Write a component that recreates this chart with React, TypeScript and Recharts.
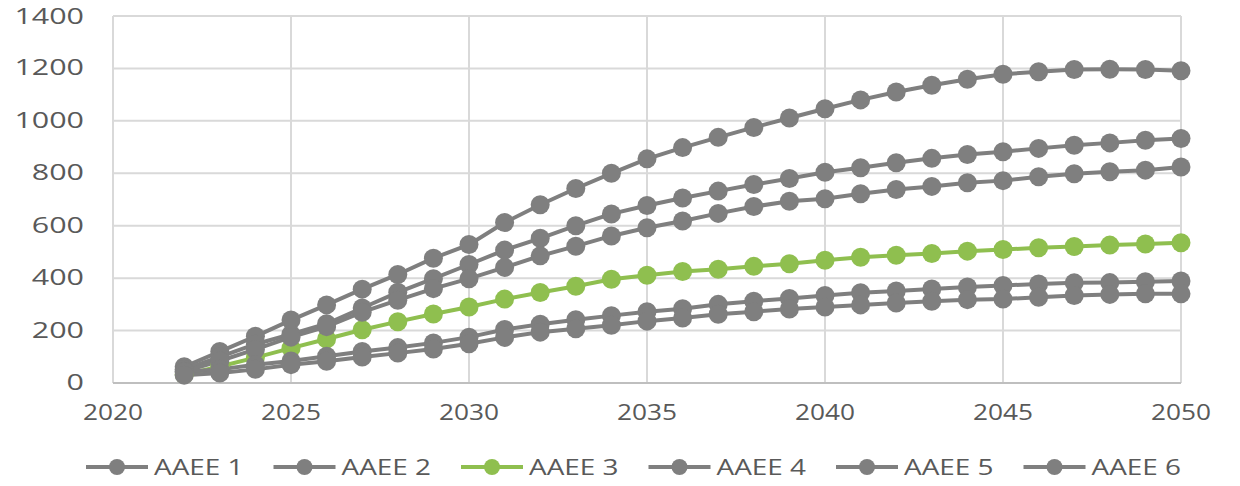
import { LineChart, Line, XAxis, YAxis, CartesianGrid, Legend } from "recharts";

const years = [
  2022, 2023, 2024, 2025, 2026, 2027, 2028, 2029, 2030, 2031, 2032, 2033, 2034, 2035, 2036,
  2037, 2038, 2039, 2040, 2041, 2042, 2043, 2044, 2045, 2046, 2047, 2048, 2049, 2050,
];

const aaee1 = [
  62, 120, 178, 240, 298, 358, 414, 476, 528, 612, 680, 742, 800, 855, 898,
  937, 975, 1011, 1046, 1080, 1110, 1136, 1159, 1178, 1187, 1196, 1197, 1196, 1191,
];
const aaee2 = [
  52, 100, 148, 186, 226, 286, 346, 398, 452, 507, 552, 600, 645, 677, 706,
  732, 757, 780, 804, 821, 840, 857, 872, 882, 895, 907, 916, 926, 933,
];
const aaee3 = [
  32, 63, 97, 133, 168, 203, 234, 263, 290, 320, 345, 369, 396, 411, 425,
  434, 445, 455, 468, 480, 487, 494, 503, 509, 516, 521, 526, 530, 535,
];
const aaee4 = [
  45, 84, 128, 175, 215, 270, 316, 360, 398, 441, 485, 522, 561, 592, 618,
  647, 673, 693, 703, 722, 738, 750, 764, 772, 787, 798, 806, 812, 824,
];
const aaee5 = [
  42, 52, 70, 84, 102, 120, 135, 153, 175, 204, 224, 241, 257, 272, 283,
  300, 312, 322, 334, 344, 351, 359, 366, 372, 378, 382, 383, 386, 389,
];
const aaee6 = [
  30, 38, 52, 70, 83, 99, 114, 130, 150, 174, 194, 207, 220, 236, 248,
  262, 272, 282, 290, 298, 305, 312, 318, 320, 327, 334, 338, 340, 340,
];

const seriesNames = ["AAEE 1", "AAEE 2", "AAEE 3", "AAEE 4", "AAEE 5", "AAEE 6"];
const xTicks = [2020, 2025, 2030, 2035, 2040, 2045, 2050];
const yTicks = [0, 200, 400, 600, 800, 1000, 1200, 1400];

const GREY = "#7f7f7f";
const GREEN = "#8fbf4f";
const TEXT = "#595959";
const FONT = '"Open Sans", sans-serif';
const colors = [GREY, GREY, GREEN, GREY, GREY, GREY];
const keys = ["s1", "s2", "s3", "s4", "s5", "s6"];

const seriesValues = [aaee1, aaee2, aaee3, aaee4, aaee5, aaee6];
const data = years.map((year, i) => {
  const row: Record<string, number> = { year };
  keys.forEach((k, j) => {
    row[k] = seriesValues[j][i];
  });
  return row;
});

function YTick({ x, y, payload }: any) {
  return (
    <text
      transform={`translate(${x - 29},${y - 1}) scale(1.45,1)`}
      textAnchor="end"
      dominantBaseline="central"
      fill={TEXT}
      fontSize={21}
      fontFamily={FONT}
    >
      {payload.value}
    </text>
  );
}

function XTick({ x, y, payload }: any) {
  return (
    <text
      transform={`translate(${x},${y + 29}) scale(1.25,1)`}
      textAnchor="middle"
      dominantBaseline="central"
      fill={TEXT}
      fontSize={21}
      fontFamily={FONT}
    >
      {payload.value}
    </text>
  );
}

function LegendContent() {
  return (
    <svg width={1224} height={53} style={{ display: "block" }}>
      {seriesNames.map((name, i) => {
        const x0 = 78 + i * 187.5;
        const cy = 34;
        return (
          <g key={name}>
            <line x1={x0} y1={cy} x2={x0 + 62} y2={cy} stroke={colors[i]} strokeWidth={4} />
            <circle cx={x0 + 31} cy={cy} r={8} fill={colors[i]} />
            <text
              transform={`translate(${x0 + 68},${cy}) scale(1.33,1)`}
              dominantBaseline="central"
              fill={TEXT}
              fontSize={21}
              fontFamily={FONT}
            >
              {name}
            </text>
          </g>
        );
      })}
    </svg>
  );
}

export default function App() {
  return (
    <div style={{ width: 1224, height: 478 }}>
      <style>{`.recharts-surface { overflow: visible; }`}</style>
      <LineChart
        width={1224}
        height={478}
        data={data}
        margin={{ top: 8, right: 51, left: 0, bottom: 0 }}
      >
        <CartesianGrid stroke="#d9d9d9" strokeWidth={2} />
        <XAxis
          dataKey="year"
          type="number"
          domain={[2020, 2050]}
          ticks={xTicks}
          tick={<XTick />}
          tickLine={false}
          tickSize={0}
          tickMargin={0}
          axisLine={{ stroke: "#bfbfbf", strokeWidth: 2 }}
          height={50}
        />
        <YAxis
          domain={[0, 1400]}
          ticks={yTicks}
          tick={<YTick />}
          tickLine={false}
          tickSize={0}
          tickMargin={0}
          axisLine={false}
          width={105}
        />
        <Legend verticalAlign="bottom" height={53} content={<LegendContent />} />
        {keys.map((k, i) => (
          <Line
            key={k}
            dataKey={k}
            name={seriesNames[i]}
            stroke={colors[i]}
            strokeWidth={4}
            dot={{ r: 9.5, fill: colors[i], stroke: colors[i], strokeWidth: 0 }}
            isAnimationActive={false}
          />
        ))}
      </LineChart>
    </div>
  );
}
